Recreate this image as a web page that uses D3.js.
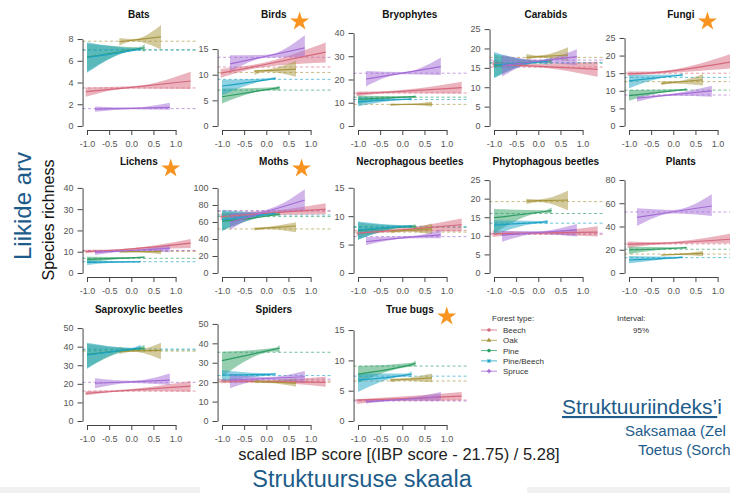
<!DOCTYPE html>
<html><head><meta charset="utf-8">
<script src="https://cdn.jsdelivr.net/npm/d3@7"></script>
<style>body{margin:0;background:#fff} svg{display:block} text{font-family:"Liberation Sans",Arial,sans-serif}</style>
</head><body><svg id="c" width="730" height="493"></svg>
<script>
// ---------- data ----------
const panelNames = ["Bats","Birds","Bryophytes","Carabids","Fungi","Lichens","Moths","Necrophagous beetles","Phytophagous beetles","Plants","Saproxylic beetles","Spiders","True bugs"];
const starredPanels = ["Birds","Fungi","Lichens","Moths","True bugs"];
const forestTypes = ["Beech","Oak","Pine","Pine/Beech","Spruce"];
const typeColors = ["#d5687c","#a8963e","#2e9d62","#1ea3c6","#a46bd6"];
const typeXStart = [-1.03,-0.27,-1.0,-1.0,-0.82];
const typeXEnd = [1.34,0.67,0.3,0.21,0.87];
const xTicks = [-1,-0.5,0,0.5,1];
const yTickStep = [2,5,10,5,5,10,20,5,5,20,10,10,5];
const yTickMax = [8,15,40,25,25,40,100,15,25,80,50,50,15];
const yLimit = [9.2,19.5,43,25.8,28.4,47,117.6,17.6,26.9,86,53.8,51.5,16.5];

const bats = [
  {type:"Beech", xc:0.0, fit:[3.15,3.55,4.14], lo:[2.7,3.45,3.4], hi:[3.55,3.65,5.0], mean:3.5},
  {type:"Oak", xc:0.05, fit:[7.75,7.9,8.2], lo:[7.4,7.8,7.05], hi:[8.1,8.0,9.3], mean:7.8},
  {type:"Pine", xc:0.2, fit:[6.35,7.13,7.2], lo:[5.0,7.0,6.8], hi:[7.6,7.25,7.6], mean:7.0},
  {type:"Pine/Beech", xc:0.15, fit:[6.3,7.05,7.1], lo:[4.9,6.95,6.9], hi:[7.7,7.15,7.4], mean:7.0},
  {type:"Spruce", xc:0.0, fit:[1.56,1.63,1.72], lo:[1.3,1.55,1.5], hi:[1.8,1.7,2.15], mean:1.6}
];
const birds = [
  {type:"Beech", xc:-0.2, fit:[10.3,11.7,14.4], lo:[9.4,11.3,12.4], hi:[11.1,12.1,16.3], mean:11.5},
  {type:"Oak", xc:0.0, fit:[10.7,10.8,11.1], lo:[9.95,10.6,9.6], hi:[10.9,11.0,12.7], mean:10.45},
  {type:"Pine", xc:0.15, fit:[5.7,7.3,7.5], lo:[4.4,7.0,6.9], hi:[7.3,7.55,7.85], mean:7.0},
  {type:"Pine/Beech", xc:0.1, fit:[7.8,9.15,9.3], lo:[6.0,8.95,9.0], hi:[9.0,9.35,9.6], mean:9.1},
  {type:"Spruce", xc:0.0, fit:[12.1,13.6,15.25], lo:[10.6,13.3,13.5], hi:[13.8,13.9,17.7], mean:13.4}
];
const bryophytes = [
  {type:"Beech", xc:-0.3, fit:[13.8,14.6,16.5], lo:[12.8,14.1,14.0], hi:[14.8,15.1,19.0], mean:14.2},
  {type:"Oak", xc:0.2, fit:[9.2,9.3,9.4], lo:[8.7,9.0,8.3], hi:[9.7,9.6,10.5], mean:9.3},
  {type:"Pine", xc:0.15, fit:[11.5,12.5,12.6], lo:[9.5,12.2,12.0], hi:[13.0,12.8,13.2], mean:12.4},
  {type:"Pine/Beech", xc:0.1, fit:[10.5,11.5,11.6], lo:[8.5,11.2,11.0], hi:[12.5,11.8,12.0], mean:11.4},
  {type:"Spruce", xc:0.0, fit:[20.2,22.7,25.5], lo:[17.0,22.2,21.9], hi:[23.6,23.2,29.5], mean:22.7}
];
const carabids = [
  {type:"Beech", xc:-0.3, fit:[16.0,15.6,14.6], lo:[15.0,15.2,12.7], hi:[17.0,16.0,16.6], mean:15.2},
  {type:"Oak", xc:0.0, fit:[17.7,17.9,18.3], lo:[17.0,17.6,16.8], hi:[18.6,18.2,20.3], mean:17.7},
  {type:"Pine", xc:0.05, fit:[15.6,16.6,16.8], lo:[12.5,16.3,16.0], hi:[18.6,16.9,17.7], mean:16.2},
  {type:"Pine/Beech", xc:0.0, fit:[15.8,16.5,16.7], lo:[12.3,16.2,15.8], hi:[19.1,16.8,17.5], mean:16.4},
  {type:"Spruce", xc:0.0, fit:[15.6,16.7,17.9], lo:[12.8,16.3,15.7], hi:[18.3,17.1,19.8], mean:17.0}
];
const fungi = [
  {type:"Beech", xc:-0.5, fit:[14.8,15.1,18.3], lo:[14.3,14.7,16.4], hi:[15.5,15.5,20.6], mean:15.0},
  {type:"Oak", xc:0.0, fit:[12.1,12.4,13.1], lo:[11.6,12.1,11.5], hi:[12.7,12.7,14.8], mean:12.6},
  {type:"Pine", xc:0.2, fit:[8.6,10.25,10.4], lo:[7.2,10.0,10.0], hi:[10.2,10.5,10.8], mean:10.2},
  {type:"Pine/Beech", xc:0.1, fit:[12.8,14.35,14.5], lo:[10.7,14.1,14.0], hi:[14.5,14.6,15.0], mean:13.8},
  {type:"Spruce", xc:0.0, fit:[7.9,8.9,10.0], lo:[6.9,8.6,8.3], hi:[8.4,9.2,11.4], mean:8.8}
];
const lichens = [
  {type:"Beech", xc:-0.3, fit:[10.0,10.8,14.0], lo:[9.3,10.4,11.8], hi:[10.9,11.2,16.0], mean:10.4},
  {type:"Oak", xc:0.1, fit:[10.0,10.0,10.0], lo:[9.5,9.8,8.8], hi:[10.6,10.2,11.0], mean:10.2},
  {type:"Pine", xc:0.1, fit:[6.4,7.2,7.4], lo:[4.8,6.9,6.9], hi:[7.6,7.5,7.9], mean:6.9},
  {type:"Pine/Beech", xc:0.0, fit:[5.0,5.25,5.3], lo:[3.8,5.0,4.9], hi:[6.0,5.5,5.8], mean:5.3},
  {type:"Spruce", xc:0.1, fit:[9.7,10.7,11.6], lo:[8.5,10.3,9.8], hi:[10.8,11.1,13.5], mean:10.6}
];
const moths = [
  {type:"Beech", xc:-0.2, fit:[66.3,69.5,75], lo:[62,67.5,69], hi:[70,71.5,82], mean:73},
  {type:"Oak", xc:0.05, fit:[51.8,53,55.3], lo:[50,51.5,47.9], hi:[53.5,54.5,59.6], mean:51.8},
  {type:"Pine", xc:0.2, fit:[61,68.5,69.5], lo:[50,67,67], hi:[72,70,72], mean:66.3},
  {type:"Pine/Beech", xc:0.1, fit:[62.4,69.5,70.2], lo:[49.4,68,68.5], hi:[74,71,72], mean:68.2},
  {type:"Spruce", xc:0.0, fit:[59.6,72,85.9], lo:[50.6,70,73.3], hi:[70.2,74.5,98.4], mean:73}
];
const necrophagous = [
  {type:"Beech", xc:0.0, fit:[7.0,7.6,8.5], lo:[6.5,7.3,7.3], hi:[7.5,7.9,9.6], mean:7.5},
  {type:"Oak", xc:0.1, fit:[7.3,7.5,7.76], lo:[7.0,7.3,6.8], hi:[7.6,7.7,8.7], mean:7.2},
  {type:"Pine", xc:0.1, fit:[7.5,8.15,8.25], lo:[5.9,7.95,7.8], hi:[8.9,8.35,8.6], mean:8.0},
  {type:"Pine/Beech", xc:0.05, fit:[7.6,8.2,8.3], lo:[5.8,8.0,7.9], hi:[9.05,8.4,8.5], mean:8.2},
  {type:"Spruce", xc:0.2, fit:[5.5,6.3,6.7], lo:[4.9,6.1,6.1], hi:[6.3,6.5,7.6], mean:6.4}
];
const phytophagous = [
  {type:"Beech", xc:-0.2, fit:[10.5,10.7,11.0], lo:[9.7,10.4,9.8], hi:[11.5,11.0,12.6], mean:10.4},
  {type:"Oak", xc:0.0, fit:[19.35,19.45,19.6], lo:[18.5,19.1,16.9], hi:[20.0,19.8,22.1], mean:19.2},
  {type:"Pine", xc:0.15, fit:[14.9,16.55,16.8], lo:[10.7,16.2,16.0], hi:[17.2,16.9,17.6], mean:16.0},
  {type:"Pine/Beech", xc:0.1, fit:[12.9,13.7,13.8], lo:[10.2,13.4,13.2], hi:[14.2,14.0,14.3], mean:13.4},
  {type:"Spruce", xc:0.0, fit:[10.2,10.9,11.6], lo:[8.4,10.5,9.8], hi:[11.3,11.3,13.2], mean:10.7}
];
const plants = [
  {type:"Beech", xc:-0.3, fit:[24.7,25.5,29.2], lo:[21.5,24.5,25.5], hi:[27,26.5,34.1], mean:25},
  {type:"Oak", xc:0.1, fit:[15.5,16.0,16.9], lo:[14.8,15.4,14.5], hi:[16.2,16.6,19.0], mean:16.3},
  {type:"Pine", xc:0.15, fit:[19.8,21.5,21.8], lo:[16.3,20.8,20.8], hi:[22.6,22.2,22.8], mean:20.4},
  {type:"Pine/Beech", xc:0.1, fit:[11.2,13.2,13.5], lo:[8.3,12.5,12.7], hi:[14.6,13.9,14.3], mean:13.2},
  {type:"Spruce", xc:0.0, fit:[47.9,52.7,57.6], lo:[40.4,51.2,49], hi:[55.6,54.2,67.7], mean:52.5}
];
const saproxylic = [
  {type:"Beech", xc:0.0, fit:[14.9,16.6,18.8], lo:[13.8,16.0,15.8], hi:[16.0,17.2,21.5], mean:16.1},
  {type:"Oak", xc:0.05, fit:[37.5,37.7,38.0], lo:[36,37.3,33.2], hi:[40,38.1,42.1], mean:37.6},
  {type:"Pine", xc:0.05, fit:[35.8,38.5,39.2], lo:[28.5,37.8,37.5], hi:[41.5,39.2,41], mean:38.2},
  {type:"Pine/Beech", xc:0.0, fit:[35.5,38.7,39.4], lo:[28.0,38.0,38.0], hi:[42.1,39.4,41.0], mean:38.7},
  {type:"Spruce", xc:0.0, fit:[20.3,21.1,22.0], lo:[17.6,20.5,19.4], hi:[23.0,21.7,25.6], mean:20.8}
];
const spiders = [
  {type:"Beech", xc:-0.2, fit:[20.6,20.4,19.9], lo:[19.5,19.8,17.7], hi:[21.7,21.0,22.8], mean:20.6},
  {type:"Oak", xc:0.0, fit:[20.5,20.2,19.5], lo:[19.5,19.6,17.7], hi:[21.5,20.8,22.0], mean:20.0},
  {type:"Pine", xc:0.2, fit:[31.1,37.0,37.5], lo:[22.8,35.8,35.4], hi:[35.7,37.7,39.2], mean:35.4},
  {type:"Pine/Beech", xc:0.05, fit:[23.7,24.0,24.2], lo:[20.3,23.3,23.5], hi:[26.3,24.6,24.8], mean:23.4},
  {type:"Spruce", xc:0.0, fit:[21.1,21.9,22.8], lo:[16.9,21.2,19.4], hi:[24.5,22.6,25.8], mean:21.5}
];
const trueBugs = [
  {type:"Beech", xc:-0.3, fit:[3.46,3.6,4.1], lo:[2.8,3.3,3.4], hi:[3.6,3.9,4.8], mean:3.46},
  {type:"Oak", xc:0.0, fit:[6.75,6.85,7.1], lo:[6.4,6.65,6.4], hi:[7.0,7.05,7.85], mean:6.6},
  {type:"Pine", xc:0.2, fit:[7.74,9.3,9.5], lo:[6.3,9.0,9.06], hi:[9.06,9.6,10.0], mean:9.06},
  {type:"Pine/Beech", xc:0.1, fit:[6.75,7.6,7.74], lo:[4.8,7.35,7.2], hi:[7.85,7.85,8.2], mean:7.4},
  {type:"Spruce", xc:0.0, fit:[3.2,3.55,4.0], lo:[2.9,3.35,3.3], hi:[3.5,3.75,4.8], mean:3.3}
];
const panelSeries = [bats,birds,bryophytes,carabids,fungi,lichens,moths,necrophagous,phytophagous,plants,saproxylic,spiders,trueBugs];
const legendTitle = "Forest type:";
const intervalTitle = "Interval:";
const intervalValue = "95%";

// ---------- layout ----------
const svg = d3.select("#c");
const colX = [87,222,358,494,629];
const rowY0 = [126,273,421];
const unitW = 44.3, plotH = 100;
const FONT = '"Liberation Sans",Arial,sans-serif';
const blue = "#1d5c8a";

// bottom grey strips
svg.append("rect").attr("x",0).attr("y",487).attr("width",200).attr("height",6).attr("fill","#f1f1f1");
svg.append("rect").attr("x",527).attr("y",487).attr("width",203).attr("height",6).attr("fill","#f1f1f1");

panelNames.forEach((name,i)=>{
  const col = i%5, row = Math.floor(i/5);
  const y0 = rowY0[row];
  const x = d3.scaleLinear().domain([-1,1]).range([colX[col], colX[col]+2*unitW]);
  const y = d3.scaleLinear().domain([0,yLimit[i]]).range([y0, y0-plotH]);
  const g = svg.append("g");
  const series = panelSeries[i];

  // dashed mean lines
  series.forEach(s=>{
    const c = typeColors[forestTypes.indexOf(s.type)];
    g.append("line").attr("x1",x(-1.1)).attr("x2",x(1.47))
      .attr("y1",y(s.mean)).attr("y2",y(s.mean))
      .attr("stroke",c).attr("stroke-opacity",0.65).attr("stroke-width",1)
      .attr("stroke-dasharray","3,2.5");
  });
  // bands
  series.forEach(s=>{
    const t = forestTypes.indexOf(s.type);
    const xs = [typeXStart[t], s.xc, typeXEnd[t]];
    const pts = xs.map((xv,k)=>({x:xv, lo:s.lo[k], hi:s.hi[k], fit:s.fit[k]}));
    g.append("path").datum(pts)
      .attr("d", d3.area().x(d=>x(d.x)).y0(d=>y(d.lo)).y1(d=>y(d.hi)).curve(d3.curveMonotoneX))
      .attr("fill",typeColors[t]).attr("fill-opacity",0.5);
  });
  // fit lines
  series.forEach(s=>{
    const t = forestTypes.indexOf(s.type);
    const xs = [typeXStart[t], s.xc, typeXEnd[t]];
    const pts = xs.map((xv,k)=>({x:xv, fit:s.fit[k]}));
    g.append("path").datum(pts)
      .attr("d", d3.line().x(d=>x(d.x)).y(d=>y(d.fit)).curve(d3.curveMonotoneX))
      .attr("fill","none").attr("stroke",typeColors[t]).attr("stroke-width",1.2);
  });

  // y axis
  const yA = d3.scaleLinear().domain([0,yTickMax[i]]).range([y(0), y(yTickMax[i])]);
  const ya = g.append("g").attr("transform",`translate(${x(-1.1)},0)`)
    .call(d3.axisLeft(yA).tickValues(d3.range(0,yTickMax[i]+0.001,yTickStep[i])).tickSize(5).tickSizeOuter(0).tickPadding(4));
  // x axis
  const xa = g.append("g").attr("transform",`translate(0,${y0+4})`)
    .call(d3.axisBottom(x).tickValues(xTicks).tickSize(5).tickSizeOuter(0).tickPadding(5.5).tickFormat(d=>d.toFixed(1)));
  [ya,xa].forEach(a=>{
    a.attr("font-family",FONT).attr("font-size",9);
    a.selectAll("path,line").attr("stroke","#444");
    a.selectAll("text").attr("fill","#555");
  });

  // title
  const tx = x(0.17), ty = y0-108.5;
  const title = g.append("text").attr("x",tx).attr("y",ty).attr("text-anchor","middle")
    .attr("font-size",10).attr("font-weight","bold").attr("fill","#111").text(name);
  if (starredPanels.includes(name)) {
    const w = title.node().getComputedTextLength();
    g.append("path").attr("d", d3.symbol(d3.symbolStar, 112)())
      .attr("transform",`translate(${tx + w/2 + 13},${ty + 4})`)
      .attr("fill","#f7931e");
  }
});

// legend
const lg = svg.append("g").attr("font-family",FONT).attr("font-size",8).attr("fill","#333");
lg.append("text").attr("x",492).attr("y",321).text(legendTitle);
const syms = [d3.symbolCircle, d3.symbolTriangle, d3.symbolCircle, d3.symbolCross, d3.symbolCross];
forestTypes.forEach((t,k)=>{
  const yy = 330 + k*10.3;
  lg.append("line").attr("x1",481).attr("x2",497).attr("y1",yy).attr("y2",yy)
    .attr("stroke",typeColors[k]).attr("stroke-width",1).attr("stroke-opacity",0.8);
  lg.append("path").attr("d", d3.symbol(syms[k], 10)())
    .attr("transform",`translate(489,${yy})` + (k===3?" rotate(45)":""))
    .attr("fill",typeColors[k]);
  lg.append("text").attr("x",503).attr("y",yy+3).text(t);
});
lg.append("text").attr("x",617).attr("y",321).text(intervalTitle);
lg.append("text").attr("x",633).attr("y",333).text(intervalValue);

// axis titles and annotations
svg.append("text").attr("transform","translate(31,206) rotate(-90)").attr("text-anchor","middle")
  .attr("font-size",24).attr("fill",blue).text("Liikide arv");
svg.append("text").attr("transform","translate(54,220) rotate(-90)").attr("text-anchor","middle")
  .attr("font-size",16).attr("fill","#111").text("Species richness");
svg.append("text").attr("x",399).attr("y",460).attr("text-anchor","middle")
  .attr("font-size",16.5).attr("fill","#222").text("scaled IBP score [(IBP score - 21.75) / 5.28]");
svg.append("text").attr("x",362).attr("y",487).attr("text-anchor","middle")
  .attr("font-size",23.5).attr("fill",blue).text("Struktuursuse skaala");
const si = svg.append("text").attr("x",562).attr("y",414).attr("font-size",21).attr("fill",blue);
si.append("tspan").attr("text-decoration","underline").text("Struktuuriindeks’");
si.append("tspan").text("i");
svg.append("text").attr("x",625).attr("y",436).attr("font-size",15).attr("fill",blue).text("Saksamaa (Zel");
svg.append("text").attr("x",638).attr("y",455).attr("font-size",15).attr("fill",blue).text("Toetus (Sorch");
</script></body></html>
